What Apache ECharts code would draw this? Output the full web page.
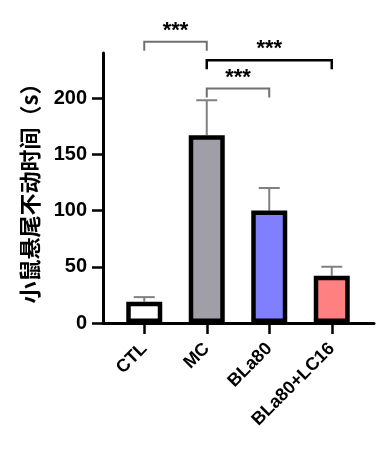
<!DOCTYPE html>
<html><head><meta charset="utf-8">
<script src="https://cdn.jsdelivr.net/npm/echarts@6/dist/echarts.min.js"></script>
<style>html,body{margin:0;padding:0;background:#fff}#c{width:386px;height:454px}</style>
</head><body><div id="c"></div>
<script>
// ---- data ----
var categories = ['CTL', 'MC', 'BLa80', 'BLa80+LC16'];
var means = [19, 167, 100, 42];
var errors = [4, 31, 20, 8];
var barColors = ['#ffffff', '#a09fa7', '#8080ff', '#ff8080'];
var yTicks = [0, 50, 100, 150, 200];
// comparisons: [fromIndex, toIndex, bracketValue, label]
var compFrom = [0, 1, 1];
var compTo = [1, 3, 2];
var compLevel = [250, 233.5, 208.5];
var compLabel = ['***', '***', '***'];
var compColor = ['#707070', '#000000', '#707070'];

var idx = categories.map(function (_, i) { return i; });

var chart = echarts.init(document.getElementById('c'), null, { renderer: 'canvas' });
var FONT = 'Liberation Sans, Arial, sans-serif';

var barData = means.map(function (v, i) {
  return { value: [i, v], itemStyle: { color: barColors[i] } };
});
var errData = means.map(function (v, i) { return [i, v, v + errors[i]]; });
var compData = compFrom.map(function (f, i) { return [f, compTo[i], compLevel[i], i]; });

chart.setOption({
  animation: false,
  grid: { left: 103, right: 12, top: 53, bottom: 131, containLabel: false },
  xAxis: {
    type: 'value', min: -0.66, max: 3.676,
    splitLine: { show: false },
    axisLine: { show: true, onZero: false, lineStyle: { color: '#000', width: 3 } },
    axisTick: { show: true, customValues: idx, length: 11, lineStyle: { color: '#000', width: 2.5 } },
    axisLabel: {
      customValues: idx, rotate: 45, margin: 23,
      formatter: function (v) { return categories[Math.round(v)]; },
      color: '#000', fontFamily: FONT, fontWeight: 'bold', fontSize: 18
    }
  },
  yAxis: {
    type: 'value', min: 0, max: 240,
    name: '小鼠悬尾不动时间（s）', nameLocation: 'middle', nameGap: 62,
    nameTextStyle: { color: '#000', fontFamily: 'Noto Sans CJK SC, Liberation Sans', fontWeight: 'bold', fontSize: 22 },
    splitLine: { show: false },
    axisLine: { show: true, onZero: false, lineStyle: { color: '#000', width: 3 } },
    axisTick: { show: true, customValues: yTicks, length: 11, lineStyle: { color: '#000', width: 2.5 } },
    axisLabel: { customValues: yTicks, margin: 16, color: '#000', fontFamily: FONT, fontWeight: 'bold', fontSize: 20 }
  },
  series: [
    {
      type: 'custom', z: 1, clip: false,
      renderItem: function (params, api) {
        var x = api.value(0);
        var p0 = api.coord([x, api.value(1)]);
        var p1 = api.coord([x, api.value(2)]);
        return {
          type: 'group', children: [
            { type: 'line', shape: { x1: p0[0], y1: p0[1], x2: p1[0], y2: p1[1] }, style: { stroke: '#808080', lineWidth: 2 } },
            { type: 'line', shape: { x1: p1[0] - 10.5, y1: p1[1], x2: p1[0] + 10.5, y2: p1[1] }, style: { stroke: '#808080', lineWidth: 2 } }
          ]
        };
      },
      data: errData
    },
    {
      type: 'bar', z: 2, barWidth: 36,
      itemStyle: { borderColor: '#000', borderWidth: 4.5 },
      data: barData
    },
    {
      type: 'custom', z: 3, clip: false,
      renderItem: function (params, api) {
        var i = api.value(3);
        var a = api.coord([api.value(0), api.value(2)]);
        var b = api.coord([api.value(1), api.value(2)]);
        var col = compColor[i];
        var lw = col === '#000000' ? 2.5 : 2;
        return {
          type: 'group', children: [
            { type: 'polyline', shape: { points: [[a[0], a[1] + 9], [a[0], a[1]], [b[0], b[1]], [b[0], b[1] + 9]] },
              style: { stroke: col, lineWidth: lw, fill: null } },
            { type: 'text', x: (a[0] + b[0]) / 2, y: a[1] - 11,
              style: { text: compLabel[i], fill: '#000', font: 'bold 22px ' + FONT, align: 'center', verticalAlign: 'middle' } }
          ]
        };
      },
      data: compData
    }
  ]
});
</script></body></html>
